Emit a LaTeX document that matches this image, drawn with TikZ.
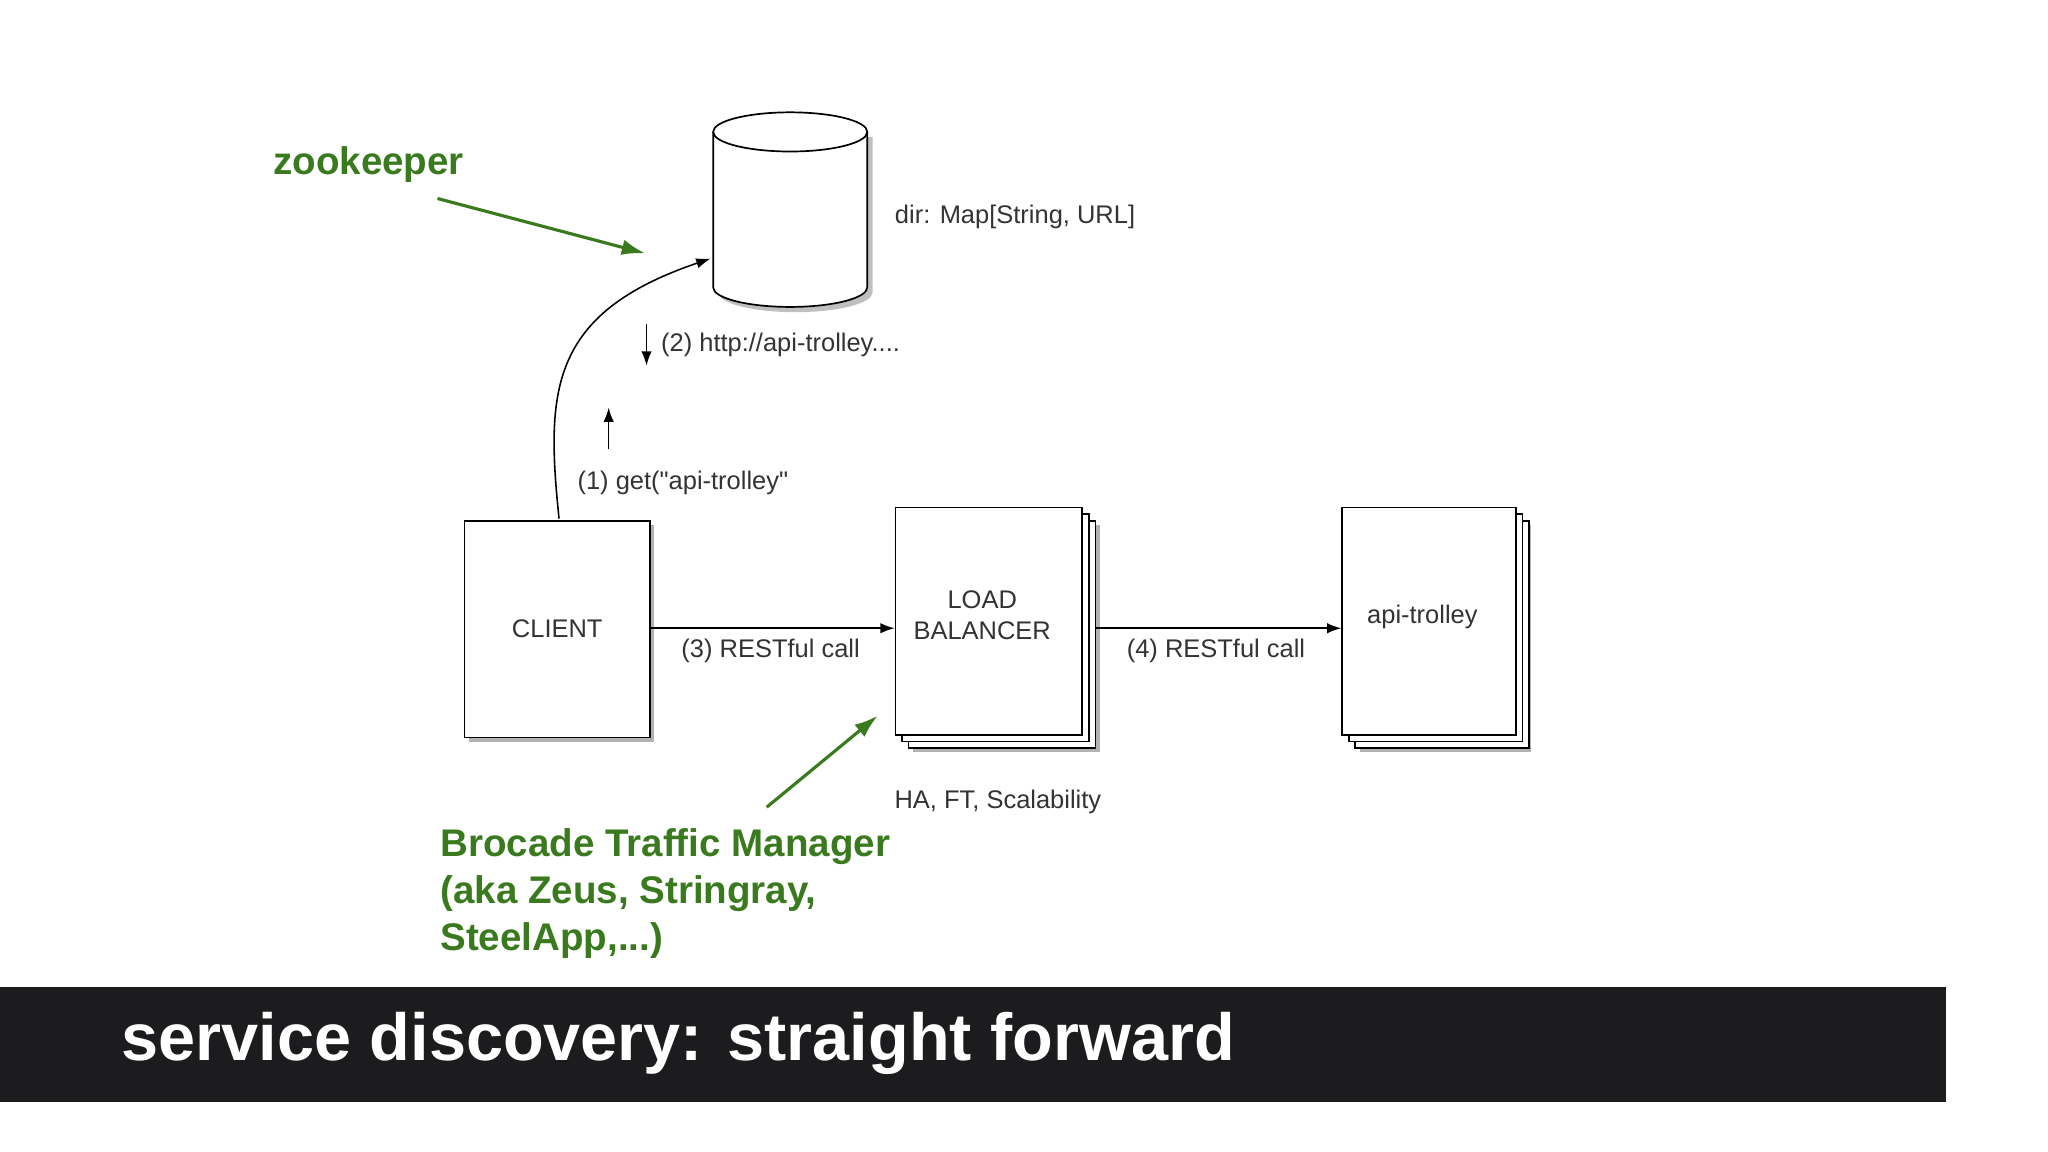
\documentclass[tikz,border=0pt]{standalone}
\usepackage{fontspec}
\setmainfont{Liberation Sans}
\usetikzlibrary{arrows.meta}
\definecolor{grn}{HTML}{3A7A1F}
\definecolor{bar}{HTML}{1C1B1D}
\begin{document}
\begin{tikzpicture}[x=1pt,y=-1pt,
  lbl/.style={font=\fontsize{19.5}{22}\selectfont,text=black!80,inner sep=0},
  gtxt/.style={font=\fontsize{29.5}{36}\selectfont\bfseries,text=grn,inner sep=0,align=left},
  box/.style={draw,line width=1.3pt,fill=white},
  arr/.style={-{Latex[length=11pt,width=8pt]},line width=1.2pt},
  garr/.style={-{Latex[length=18pt,width=12pt]},line width=2.4pt,draw=grn}]
\useasboundingbox (0,0) rectangle (1568,882);
% cylinder
\fill[black!25] (550,105) -- (550,224) arc[start angle=180,end angle=0,x radius=59,y radius=15] -- (668,105) -- cycle;
\filldraw[box] (546,101) -- (546,220) arc[start angle=180,end angle=0,x radius=59,y radius=15] -- (664,101);
\filldraw[box] (605,101) ellipse[x radius=59,y radius=15];
\coordinate (cylin) at (544,198);
\node[lbl,anchor=west] (dir) at (685,166) {dir: Map[String, URL]};
% zookeeper
\node[gtxt,anchor=west] (zk) at (209,126) {zookeeper};
\coordinate (zka) at (335,152);
\coordinate (zkb) at (494,194);
\draw[garr] (zka) -- (zkb);
% client
\fill[black!30] (359,402) rectangle (501,568);
\node[box,minimum width=142pt,minimum height=166pt,anchor=north west,lbl] (client) at (355,398) {CLIENT};
\draw[arr] (428,397) .. controls (418,300) and (420,240) .. (cylin);
\coordinate (d1) at (495,248); \coordinate (d2) at (495,280);
\draw[arr] (d1) -- (d2);
\node[lbl,anchor=west] (l2) at (506,264) {(2) http://api-trolley....};
\coordinate (u1) at (466,344); \coordinate (u2) at (466,312);
\draw[arr] (u1) -- (u2);
\node[lbl,anchor=west] (l1) at (442,370) {(1) get(\textquotedbl api-trolley\textquotedbl};
% load balancer
\fill[black!30] (699,402) rectangle (842,576);
\node[box,minimum width=143pt,minimum height=174pt,anchor=north west] (lb3) at (695,398) {};
\node[box,minimum width=143pt,minimum height=174pt,anchor=north west] (lb2) at (690,393) {};
\node[box,minimum width=143pt,minimum height=174pt,anchor=north west] (lb) at (685,388) {};
\node[lbl,align=center] (lbt) at (752,471) {LOAD\\[2pt]BALANCER};
% api-trolley
\fill[black!30] (1041,402) rectangle (1172,576);
\node[box,minimum width=133pt,minimum height=174pt,anchor=north west] (at3) at (1037,398) {};
\node[box,minimum width=133pt,minimum height=174pt,anchor=north west] (at2) at (1032,393) {};
\node[box,minimum width=133pt,minimum height=174pt,anchor=north west] (at) at (1027,388) {};
\node[lbl] (att) at (1089,472) {api-trolley};
% arrows
\draw[arr] (client.east |- 0,481) -- (lb.west |- 0,481);
\node[lbl] (l3) at (590,498) {(3) RESTful call};
\draw[arr] (lb3.east |- 0,481) -- (at.west |- 0,481);
\node[lbl] (l4) at (931,498) {(4) RESTful call};
\node[lbl] (ha) at (764,614) {HA, FT, Scalability};
\coordinate (ba) at (587,618); \coordinate (bb) at (672,548);
\draw[garr] (ba) -- (bb);
\node[gtxt,anchor=north west] (brc) at (337,634) {Brocade Traffic Manager\\(aka Zeus, Stringray,\\SteelApp,...)};
% bar
\fill[bar] (0,756) rectangle (1490,844);
\node[anchor=west,text=white,font=\fontsize{51}{60}\selectfont\bfseries,inner sep=0] (title) at (93,799) {service discovery: straight forward};
\end{tikzpicture}
\end{document}
